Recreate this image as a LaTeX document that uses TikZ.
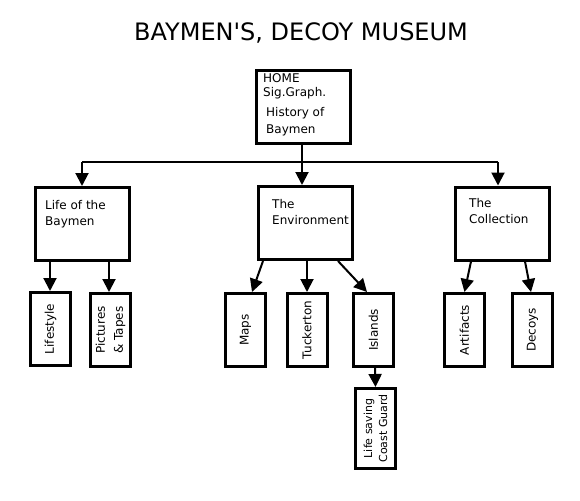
\documentclass[tikz,border=0pt]{standalone}
\usepackage{fontspec}
\setmainfont{DejaVu Sans}
\usetikzlibrary{arrows.meta}
\begin{document}
\begin{tikzpicture}[x=1pt,y=-1pt,
  bigbox/.style={draw,line width=3pt,minimum width=94pt,minimum height=73pt,inner sep=0pt},
  leaf/.style={draw,line width=3pt,rotate=90,minimum width=73pt,minimum height=40pt,inner sep=0pt,align=center,font=\fontsize{12}{16}\selectfont},
  txt/.style={anchor=north west,inner sep=0pt,align=left,font=\fontsize{12}{16}\selectfont},
  conn/.style={line width=2pt},
  arr/.style={line width=2pt,-{Triangle[length=13pt,width=13pt]}}]
\useasboundingbox (0,0) rectangle (580,500);
\node (title) at (301,33) {\fontsize{24}{30}\selectfont BAYMEN\textquotesingle S, DECOY MUSEUM};
% main boxes
\node[bigbox] (home) at (303.5,107) {};
\node[bigbox] (life) at (82.5,224) {};
\node[bigbox] (env) at (305.5,223) {};
\node[bigbox] (coll) at (502.5,223.5) {};
% texts
\node[txt,font=\fontsize{12}{14}\selectfont] (hometa) at (263,73) {HOME\\Sig.Graph.};
\node[txt,font=\fontsize{12}{17}\selectfont] (hometb) at (266,107) {History of\\Baymen};
\node[txt] (lifet) at (45,200) {Life of the\\Baymen};
\node[txt] (envt) at (272,199) {The\\Environment};
\node[txt] (collt) at (469,198) {The\\Collection};
% leaves
\node[leaf] (lifestyle) at (50.5,329) {Lifestyle};
\node[leaf,font=\fontsize{12}{18}\selectfont] (pictures) at (110.5,330) {Pictures\\\& Tapes};
\node[leaf] (maps) at (245.5,330) {Maps};
\node[leaf] (tuck) at (307,330) {Tuckerton};
\node[leaf] (islands) at (373.5,330) {Islands};
\node[leaf] (artifacts) at (464.5,330) {Artifacts};
\node[leaf] (decoys) at (532.5,330) {Decoys};
\node[leaf,minimum width=80pt,font=\fontsize{11}{15}\selectfont] (lifesaving) at (375.5,428.5) {Life saving\\Coast Guard};
% top level connectors
\coordinate (hub) at (302,162);
\coordinate (hl) at (82,162);
\coordinate (hr) at (498,162);
\draw[conn] (home.south -| hub) -- (hub);
\draw[conn] (hl) -- (hr);
\draw[arr] (hl) -- (hl |- life.north);
\draw[arr] (hub) -- (hub |- env.north);
\draw[arr] (hr) -- (hr |- coll.north);
% children connectors
\draw[arr] ([xshift=-32.5pt]life.south) -- ([xshift=-0.5pt]lifestyle.east);
\draw[arr] ([xshift=26.5pt]life.south) -- ([xshift=-1.5pt]pictures.east);
\draw[arr] ([xshift=-42.5pt]env.south) -- ([xshift=6.5pt]maps.east);
\draw[arr] ([xshift=1.5pt]env.south) -- (tuck.east);
\draw[arr] ([xshift=32.5pt]env.south) -- ([xshift=-6.5pt]islands.east);
\draw[arr] ([xshift=-31.5pt]coll.south) -- (artifacts.east);
\draw[arr] ([xshift=22.5pt]coll.south) -- ([xshift=-1.5pt]decoys.east);
\draw[arr] ([xshift=1.5pt]islands.west) -- (lifesaving.east);
\end{tikzpicture}
\end{document}
